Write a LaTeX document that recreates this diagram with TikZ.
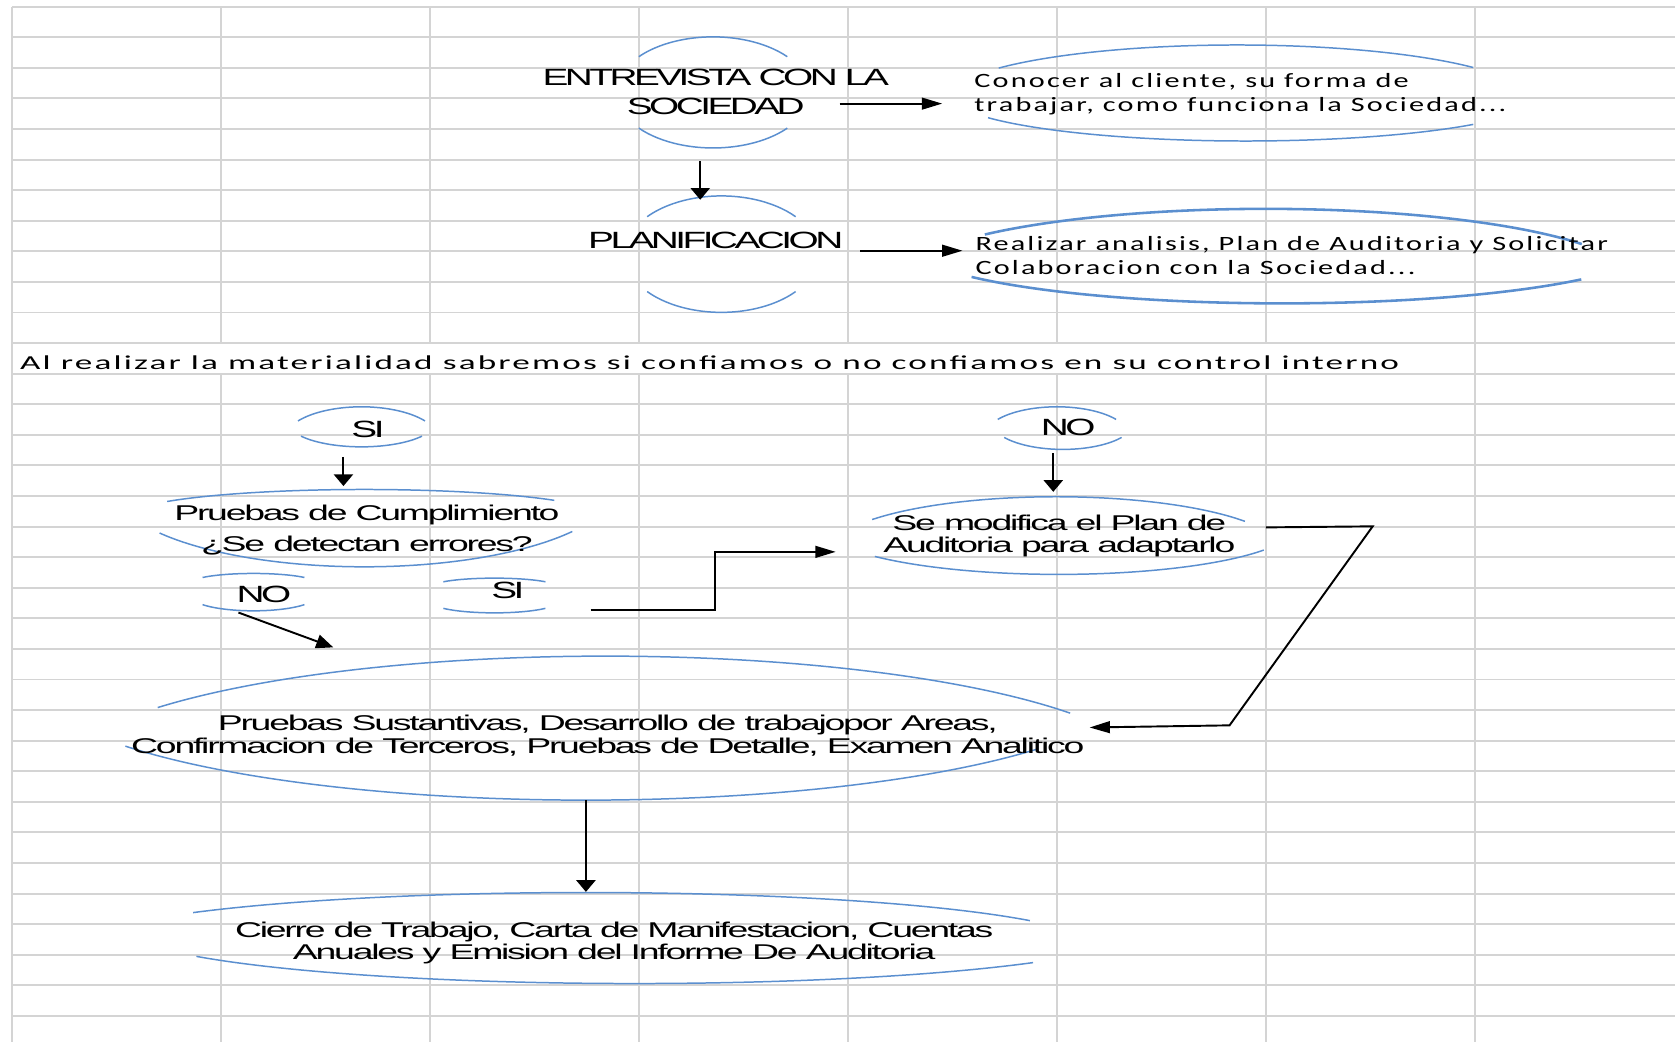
\documentclass[tikz,border=0pt]{standalone}
\usepackage{fontspec}
\usepackage{tikz}
\usetikzlibrary{calc,arrows.meta}
\newfontfamily\headfont[FakeStretch=1.65,LetterSpace=-15]{Liberation Sans}
\newfontfamily\bodyfont[FakeStretch=1.75,LetterSpace=-10.5]{Liberation Sans}
\newfontfamily\notefont[FakeStretch=1.49,LetterSpace=10.7]{Carlito}
\newfontfamily\cellfont[FakeStretch=1.78,LetterSpace=11]{Carlito}
\definecolor{gridgray}{HTML}{D4D4D4}
\definecolor{ovalblue}{HTML}{5B8FCF}
\def\ovalarc[#1](#2)(#3:#4:#5:#6){\draw[#1] ($(#2)+({#5*cos(#3)},{#6*sin(#3)})$) arc[start angle=#3,end angle=#4,x radius=#5,y radius=#6];}
\tikzset{
	grid/.style={draw=gridgray,line width=1.8pt},
	oval/.style={draw=ovalblue,line width=1.4pt},
	link/.style={draw=black,line width=1.8pt,-{Triangle[length=19pt,width=11pt]}},
	vlink/.style={link,-{Triangle[length=11pt,width=18pt]}},
	dlink/.style={link,-{Triangle[length=16pt,width=13pt]}},
	head/.style={font=\headfont\fontsize{22}{27.3}\selectfont,align=center,inner sep=0pt},
	body/.style={font=\bodyfont\fontsize{20}{21}\selectfont,align=center,inner sep=0pt},
	note/.style={font=\notefont\fontsize{19}{23}\selectfont,align=left,inner sep=0pt,anchor=west},
	cell/.style={font=\cellfont\fontsize{18.5}{22}\selectfont,inner sep=0pt,anchor=base west},
}

\begin{document}
\begin{tikzpicture}[x=1pt,y=1pt]
	%%%%% START %%%%%
	\useasboundingbox (0,0) rectangle (1568,-975.4);
	
	% hoja de calculo
	\foreach \k in {0,...,33}
		\draw[grid] (11,{-6.2-28.63*\k}) -- (1568,{-6.2-28.63*\k});
	\foreach \j in {0,7}
		\draw[grid] ({11+195.7*\j},-6.2) -- ({11+195.7*\j},-975.4);
	\foreach \j in {1,...,6}
		\draw[grid] ({11+195.7*\j},-6.2) -- ({11+195.7*\j},-321.1) ({11+195.7*\j},-349.8) -- ({11+195.7*\j},-975.4);
	
	% entrevista
	\ovalarc[oval](667.5,-86.5)(40:140:90.7:52)
	\ovalarc[oval](667.5,-86.5)(220:320:90.7:52)
	\node[head] (entrevista) at (670,-85.7) {ENTREVISTA CON LA\\SOCIEDAD};
	
	\ovalarc[oval](1158,-92.1)(35.35:145.4:271:50)
	\ovalarc[oval](1166,-89)(209.5:320.3:277:43)
	\node[note] (conocer) at (912,-88.2) {Conocer al cliente, su forma de\\trabajar, como funciona la Sociedad...};
	
	% planificacion
	\ovalarc[oval](675.3,-237.9)(40:140:90.7:54.5)
	\ovalarc[oval](675.3,-237.9)(220:320:90.7:54.5)
	\node[head] (planif) at (670,-225.3) {PLANIFICACION};
	
	\ovalarc[oval,line width=2.4pt](1185,-263.5)(31:139.7:345:68)
	\ovalarc[oval,line width=2.4pt](1200,-228)(213.9:323.2:350:56)
	\node[note] (realizar) at (913,-239.2) {Realizar analisis, Plan de Auditoria y Solicitar\\Colaboracion con la Sociedad...};
	
	\node[cell] (intro) at (18.7,-345.8) {Al realizar la materialidad sabremos si confiamos o no confiamos en su control interno};
	
	% confiamos
	\ovalarc[oval](338.4,-411.8)(35:145:72.5:31)
	\ovalarc[oval](338.4,-394.8)(215:325:69.1:23.5)
	\node[head] (si1) at (344.5,-401.7) {SI};
	
	\ovalarc[oval](341,-483.2)(36.4:146.6:221:25)
	\ovalarc[oval](341,-454.6)(215.7:325.6:236:76)
	\node[body] (cumpl) at (343.5,-496) {Pruebas de Cumplimiento\\[8pt]¿Se detectan errores?};
	
	\ovalarc[oval](237.3,-545.7)(35:145:58.2:8.9)
	\ovalarc[oval](237.3,-558.2)(215:325:58.2:13.6)
	\node[head] (no1) at (247,-556.5) {NO};
	
	\ovalarc[oval](462.8,-549.2)(35:145:58.3:8)
	\ovalarc[oval](462.8,-563.8)(215:325:58.3:9.9)
	\node[head] (si2) at (475.4,-552.4) {SI};
	
	% no confiamos
	\ovalarc[oval](989.4,-408.5)(35:145:67.6:27.7)
	\ovalarc[oval](995,-394.4)(215:325:67.1:26.3)
	\node[head] (no2) at (1000,-400.4) {NO};
	
	\ovalarc[oval](988.5,-517)(33.85:143.9:213:52)
	\ovalarc[oval](991,-492)(219.2:329.9:222:45.7)
	\node[body] (modif) at (991.7,-501.5) {Se modifica el Plan de\\Auditoria para adaptarlo};
	
	% sustantivas y cierre
	\ovalarc[oval](566.7,-732.2)(33.2:143.7:520:118)
	\ovalarc[oval](548.5,-634.4)(214:324.5:520:114.6)
	\node[body] (sustant) at (569,-688.8) {Pruebas Sustantivas, Desarrollo de trabajopor Areas,\\Confirmacion de Terceros, Pruebas de Detalle, Examen Analitico};
	
	\ovalarc[oval](548.5,-887.5)(29.6:140.3:478:52)
	\ovalarc[oval](594,-868.4)(210.9:321.3:478:52.3)
	\node[body] (cierre) at (575,-882.9) {Cierre de Trabajo, Carta de Manifestacion, Cuentas\\Anuales y Emision del Informe De Auditoria};
	
	% flechas
	\coordinate (entrevista out) at (786,-97);
	\coordinate (conocer in) at (882,-97);
	\coordinate (entrevista down) at (655.5,-151);
	\coordinate (planif in) at (655.5,-187);
	\coordinate (planif out) at (805.4,-234.7);
	\coordinate (realizar in) at (901,-234.7);
	\coordinate (si1 out) at (321.5,-427.6);
	\coordinate (cumpl in) at (321.5,-455);
	\coordinate (no1 out) at (223.2,-573.4);
	\coordinate (sustant in) at (312,-606);
	\coordinate (si2 out) at (553,-570.6);
	\coordinate (modif in) at (782.3,-516.6);
	\coordinate (no2 out) at (986,-424.4);
	\coordinate (modif top) at (986,-460.4);
	\coordinate (modif out) at (1185,-493.7);
	\coordinate (sustant back) at (1020,-681);
	\coordinate (sustant out) at (548.5,-749);
	\coordinate (cierre in) at (548.5,-834.9);
	
	\draw[link] (entrevista out) -- (conocer in);
	\draw[vlink] (entrevista down) -- (planif in);
	\draw[link] (planif out) -- (realizar in);
	\draw[vlink] (si1 out) -- (cumpl in);
	\draw[dlink] (no1 out) -- (sustant in);
	\draw[link] (si2 out) -- (669.5,-570.6) -- (669.5,-516.6) -- (modif in);
	\draw[vlink] (no2 out) -- (modif top);
	\draw[link] (modif out) -- (1285,-492.7) -- (1151,-679) -- (sustant back);
	\draw[vlink] (sustant out) -- (cierre in);
	%%%%% END %%%%%
\end{tikzpicture}
\end{document}
